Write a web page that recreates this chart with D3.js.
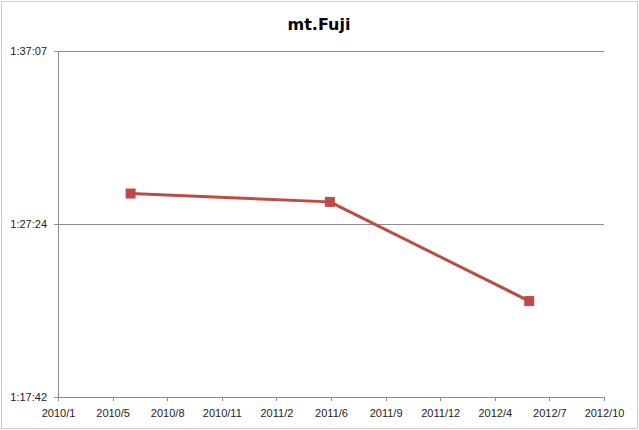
<!DOCTYPE html>
<html>
<head>
  <meta charset="UTF-8">
  <title>mt.Fuji</title>
  <style>
  body { margin:0; background:#fff; }
  svg { display:block; font-family:"Liberation Sans", Arial, sans-serif; }
  .axis text { font-size:11px; fill:#222; }
  .axis path, .axis line { stroke:#8c8c8c; shape-rendering:crispEdges; }
  </style>
</head>
<body>
  <div id="chart"></div>
  <script src="https://d3js.org/d3.v7.min.js"></script>
  <script>
    // race dates and finish times (seconds)
    var dates = ["2010-06-04", "2011-06-04", "2012-06-03"];
    var times = [5347, 5319, 4985];
    // axis range
    var xStart = "2010-01-22", xStepDays = 100, xTickCount = 11;
    var yTicks = [4662, 5244.5, 5827];

    var parseTime = d3.timeParse("%Y-%m-%d");
    var data = dates.map(function(d, i) { return {date: parseTime(d), time: times[i]}; });

    var svg = d3.select("#chart").append("svg")
        .attr("width", 639)
        .attr("height", 430),
      margin = {top: 51, right: 35, bottom: 33, left: 58},
      width = +svg.attr("width") - margin.left - margin.right,
      height = +svg.attr("height") - margin.top - margin.bottom,
      g = svg.append("g").attr("transform", "translate(" + margin.left + "," + margin.top + ")");

    // outer dashed frame
    svg.append("rect")
        .attr("x", 1.5).attr("y", 1.5)
        .attr("width", 636).attr("height", 427)
        .attr("fill", "none")
        .attr("stroke", "#9a9a9a")
        .attr("stroke-dasharray", "1,1");

    svg.append("text")
        .attr("x", 319)
        .attr("y", 30)
        .attr("text-anchor", "middle")
        .attr("font-family", "DejaVu Sans")
        .attr("font-size", "16px")
        .attr("font-weight", "bold")
        .attr("fill", "#000")
        .text("mt.Fuji");

    var t0 = parseTime(xStart);
    var xTicks = d3.range(xTickCount).map(function(i) { return d3.timeDay.offset(t0, i * xStepDays); });

    var x = d3.scaleTime()
        .domain([xTicks[0], xTicks[xTicks.length - 1]])
        .range([0, width]);

    var y = d3.scaleLinear()
        .domain([yTicks[0], yTicks[yTicks.length - 1]])
        .range([height, 0]);

    function hms(s) {
      s = Math.floor(s);
      var h = Math.floor(s / 3600), m = Math.floor(s % 3600 / 60), sec = s % 60;
      return h + ":" + d3.format("02")(m) + ":" + d3.format("02")(sec);
    }

    // gridlines
    g.selectAll(".grid")
      .data(yTicks.slice(1))
      .enter().append("line")
        .attr("x1", 0).attr("x2", width)
        .attr("y1", function(d) { return Math.round(y(d)) + 0.5; })
        .attr("y2", function(d) { return Math.round(y(d)) + 0.5; })
        .attr("stroke", "#8c8c8c");

    g.append("g")
        .attr("class", "axis")
        .attr("transform", "translate(0," + height + ")")
        .call(d3.axisBottom(x)
          .tickValues(xTicks)
          .tickSize(4)
          .tickPadding(8)
          .tickFormat(d3.timeFormat("%Y/%-m")));

    g.append("g")
        .attr("class", "axis")
        .call(d3.axisLeft(y)
          .tickValues(yTicks)
          .tickSize(4)
          .tickPadding(7)
          .tickFormat(hms));

    var line = d3.line()
        .x(function(d) { return x(d.date); })
        .y(function(d) { return y(d.time); });

    g.append("path")
        .datum(data)
        .attr("fill", "none")
        .attr("stroke", "#be4b48")
        .attr("stroke-width", 3)
        .attr("stroke-linejoin", "round")
        .attr("d", line);

    g.selectAll(".dot")
      .data(data)
      .enter().append("rect")
        .attr("x", function(d) { return x(d.date) - 5; })
        .attr("y", function(d) { return y(d.time) - 5; })
        .attr("width", 10)
        .attr("height", 10)
        .attr("fill", "#be4b48");
  </script>
</body>
</html>
